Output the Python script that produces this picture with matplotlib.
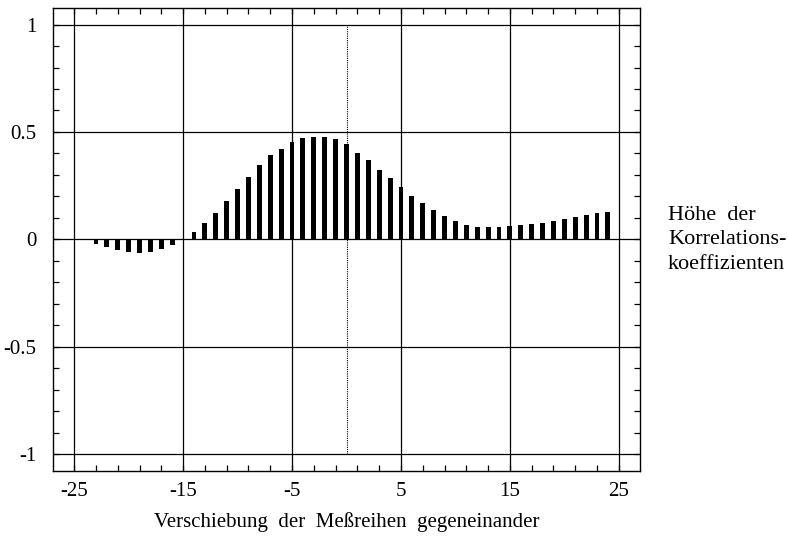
import matplotlib
matplotlib.use("Agg")
import matplotlib.pyplot as plt
from matplotlib.ticker import FixedLocator, MultipleLocator

# ---- data ----
lags = list(range(-23, 25))
corr = [-0.022, -0.037, -0.050, -0.061, -0.064, -0.058, -0.047, -0.026,   # -23..-16
        0.0,                                                              # -15
        0.036, 0.075, 0.124, 0.177, 0.235, 0.291, 0.345, 0.392, 0.421,    # -14..-6
        0.453, 0.472, 0.478, 0.478, 0.467, 0.444,                         # -5..0
        0.403, 0.369, 0.325, 0.284, 0.244, 0.203, 0.169, 0.136, 0.108,    # 1..9
        0.084, 0.069, 0.059, 0.056, 0.056, 0.061, 0.066, 0.072, 0.078,    # 10..18
        0.087, 0.097, 0.106, 0.114, 0.123, 0.127]                         # 19..24

x_ticks = [-25, -15, -5, 5, 15, 25]
x_ticklabels = ["-25", "-15", "-5", "5", "15", "25"]
y_ticks = [-1, -0.5, 0, 0.5, 1]
y_ticklabels = ["-1", "-0.5", "0", "0.5", "1"]
xlabel = "Verschiebung  der  Meßreihen  gegeneinander"
side_text = "Höhe  der\nKorrelations-\nkoeffizienten"

plt.rcParams['font.family'] = ['Liberation Serif', 'DejaVu Serif']

fig = plt.figure(figsize=(7.88, 5.38), dpi=100)
ax = fig.add_axes([53/788, 1 - 470.7/538, (640 - 53)/788, (470.7 - 8)/538])

ax.set_xlim(-26.95, 26.95)
ax.set_ylim(-1.077, 1.077)

# grid lines
for gx in x_ticks:
    ax.axvline(gx, color='black', lw=0.9, zorder=1)
for gy in y_ticks:
    ax.axhline(gy, color='black', lw=0.9, zorder=1)
ax.plot([0, 0], [-1, 1], color='black', lw=0.8, ls=(0, (1, 1)), zorder=1)

ax.bar(lags, corr, width=0.45, color='black', zorder=3)

ax.xaxis.set_major_locator(FixedLocator(x_ticks))
ax.set_xticklabels(x_ticklabels)
ax.xaxis.set_minor_locator(MultipleLocator(2, offset=1))
ax.yaxis.set_major_locator(FixedLocator(y_ticks))
ax.set_yticklabels(y_ticklabels)
ax.yaxis.set_minor_locator(MultipleLocator(0.1))

ax.tick_params(which='both', direction='in', top=True, right=True, color='black')
ax.tick_params(which='major', length=4, width=0.9, labelsize=15)
ax.tick_params(which='minor', length=4, width=0.9)
ax.tick_params(axis='x', which='major', pad=8)
ax.tick_params(axis='y', which='major', pad=12)

for s in ax.spines.values():
    s.set_linewidth(1.0)
    s.set_color('black')

fig.text(347/788, 1 - 522/538, xlabel, ha='center', va='center', fontsize=15)
fig.text(668/788, 1 - 240/538, side_text, ha='left', va='center', fontsize=16,
         linespacing=1.4)

fig.savefig("out.png", dpi=100)
